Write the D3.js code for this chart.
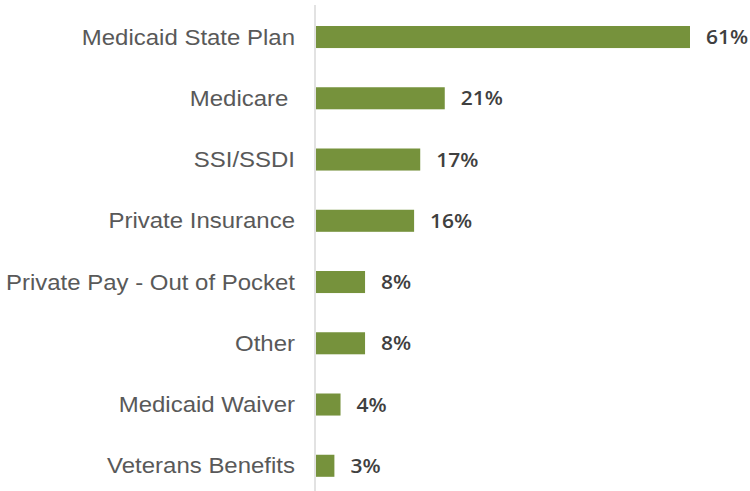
<!DOCTYPE html>
<html>
<head>
<meta charset="utf-8">
<script src="https://cdn.jsdelivr.net/npm/d3@7"></script>
<style>
  html, body { margin: 0; padding: 0; background: #fff; }
  svg { display: block; }
</style>
</head>
<body>
<svg id="chart" width="750" height="491"></svg>
<script>
// Sources of funding, share of respondents (%)
const categories = [
  "Medicaid State Plan",
  "Medicare ",
  "SSI/SSDI",
  "Private Insurance",
  "Private Pay - Out of Pocket",
  "Other",
  "Medicaid Waiver",
  "Veterans Benefits"
];
const shares = [61, 21, 17, 16, 8, 8, 4, 3];

const data = categories.map((c, i) => ({ category: c, value: shares[i] }));

const svg = d3.select("#chart");
const W = 750, H = 491;

const x = d3.scaleLinear()
  .domain([0, d3.max(shares)])
  .range([316, 690]);

const y = d3.scaleBand()
  .domain(categories)
  .range([6.4, 496.4])
  .paddingInner(0.64)
  .paddingOuter(0.32);

// bars
svg.append("g")
  .selectAll("rect")
  .data(data)
  .join("rect")
  .attr("x", x(0))
  .attr("y", d => y(d.category))
  .attr("width", d => x(d.value) - x(0))
  .attr("height", y.bandwidth())
  .attr("fill", "#76923c");

// category axis line
svg.append("line")
  .attr("x1", 315).attr("x2", 315)
  .attr("y1", 5).attr("y2", H)
  .attr("stroke", "#d9d9d9")
  .attr("stroke-width", 1.5);

// category labels
const labelX = 295, sx = 1.09;
svg.append("g")
  .attr("transform", `translate(${labelX},0) scale(${sx},1)`)
  .selectAll("text")
  .data(data)
  .join("text")
  .attr("x", 0)
  .attr("y", d => y(d.category) + y.bandwidth() / 2)
  .attr("dy", "0.35em")
  .attr("text-anchor", "end")
  .style("white-space", "pre")
  .attr("font-family", "'Liberation Sans', Arial, sans-serif")
  .attr("font-size", 22)
  .attr("fill", "#595959")
  .text(d => d.category);

// value labels
const fmt = d => d3.format("d")(d) + "%";
svg.append("g")
  .selectAll("text")
  .data(data)
  .join("text")
  .attr("transform", d => `translate(${x(d.value) + 16},${y(d.category) + y.bandwidth() / 2}) scale(1.05,1)`)
  .attr("dy", "0.36em")
  .attr("font-family", "'Open Sans', sans-serif")
  .attr("font-weight", 600)
  .attr("font-size", 20)
  .attr("fill", "#404040")
  .text(d => fmt(d.value));
</script>
</body>
</html>
